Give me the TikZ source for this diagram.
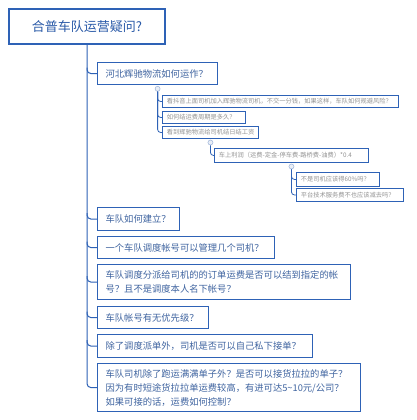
\documentclass[tikz,border=0pt]{standalone}
\usepackage{fontspec}
\setmainfont{Noto Sans CJK SC}
\usetikzlibrary{calc}
\definecolor{boxblue}{HTML}{2E62B6}
\definecolor{rootblue}{HTML}{2A5AA8}
\definecolor{textblue}{HTML}{3F64A0}
\definecolor{textgray}{HTML}{939393}
\definecolor{dotcol}{HTML}{A8BCDD}
\begin{document}
\begin{tikzpicture}[x=1pt,y=-1pt,
  rootbox/.style={draw=boxblue, line width=1.6pt, fill=white, text=rootblue,
    font=\fontsize{13}{15}\selectfont, minimum width=156pt, minimum height=35pt, inner sep=0pt},
  mbox/.style={draw=boxblue, line width=1.2pt, fill=white, text=textblue,
    font=\fontsize{9.3}{14}\selectfont, align=left, inner xsep=8pt, inner ysep=0pt, anchor=north west},
  sbox/.style={draw=boxblue, line width=0.9pt, fill=white, text=textgray,
    font=\fontsize{6.25}{8}\selectfont, align=left, inner xsep=4.5pt, inner ysep=0pt, anchor=north west},
  dot/.style={circle, draw=dotcol, fill=dotcol!25, line width=0.6pt, minimum size=5pt, inner sep=0pt, anchor=north},
  conn/.style={draw=boxblue, line width=1pt, rounded corners=4pt},
  sconn/.style={draw=boxblue, line width=0.8pt, rounded corners=3pt}]
\fill[white] (0,0) rectangle (416,420);
\useasboundingbox (0,0) rectangle (416,420);

\node[rootbox] (root) at (87,26.5) {合普车队运营疑问?};

\node[mbox, minimum width=120pt, minimum height=22pt, text width=104pt] (c1) at (97,62) {河北辉驰物流如何运作？};
\node[mbox, minimum width=82pt, minimum height=23pt, text width=66pt] (c2) at (97,207) {车队如何建立？};
\node[mbox, minimum width=177pt, minimum height=22pt, text width=161pt] (c3) at (97,236) {一个车队调度帐号可以管理几个司机？};
\node[mbox, minimum width=253pt, minimum height=35pt, text width=237pt] (c4) at (97,264) {车队调度分派给司机的的订单运费是否可以结到指定的帐\\号？且不是调度本人名下帐号？};
\node[mbox, minimum width=111pt, minimum height=22pt, text width=95pt] (c5) at (97,306) {车队帐号有无优先级？};
\node[mbox, minimum width=215pt, minimum height=23pt, text width=199pt] (c6) at (97,334) {除了调度派单外，司机是否可以自己私下接单？};
\node[mbox, minimum width=263pt, minimum height=48pt, text width=247pt] (c7) at (97,363) {车队司机除了跑运满满单子外？是否可以接货拉拉的单子？\\因为有时短途货拉拉单运费较高，有进可达5\textasciitilde10元/公司？\\如果可接的话，运费如何控制？};

\node[sbox, minimum width=236pt, minimum height=12pt, text width=227pt] (a) at (162,95) {看抖音上面司机加入辉驰物流司机，不交一分钱，如果这样，车队如何规避风险？};
\node[sbox, minimum width=83pt, minimum height=12pt, text width=74pt] (b) at (162,111) {如何结运费周期是多久？};
\node[sbox, minimum width=96pt, minimum height=12pt, text width=87pt] (c) at (162,126) {看到辉驰物流给司机结日结工资};
\node[sbox, minimum width=154pt, minimum height=14pt, text width=145pt] (d) at (214,148) {车上利润（运费-定金-停车费-路桥费-油费）*0.4};
\node[sbox, minimum width=83pt, minimum height=14pt, text width=74pt] (e) at (296,172) {不是司机应该得60\%吗？};
\node[sbox, minimum width=107pt, minimum height=13pt, text width=98pt] (f) at (296,188) {平台技术服务费不也应该减去吗？};

\node[dot] (k1) at ([yshift=-0.8pt]c1.south) {};
\node[dot] (k2) at ([yshift=-0.8pt]c.south) {};
\node[dot] (k3) at ([yshift=-0.8pt]d.south) {};

\draw[conn] (root.south) |- (c7.west);
\foreach \n in {c1,c2,c3,c4,c5,c6} {
  \draw[conn] ($(root.south |- \n.west)+(0,-6)$) |- (\n.west);
}
\draw[sconn] (k1.south) |- (a.west);
\draw[sconn] (k1.south) |- (b.west);
\draw[sconn] (k1.south) |- (c.west);
\draw[sconn] (k2.south) |- (d.west);
\draw[sconn] (k3.south) |- (e.west);
\draw[sconn] (k3.south) |- (f.west);
\end{tikzpicture}
\end{document}
